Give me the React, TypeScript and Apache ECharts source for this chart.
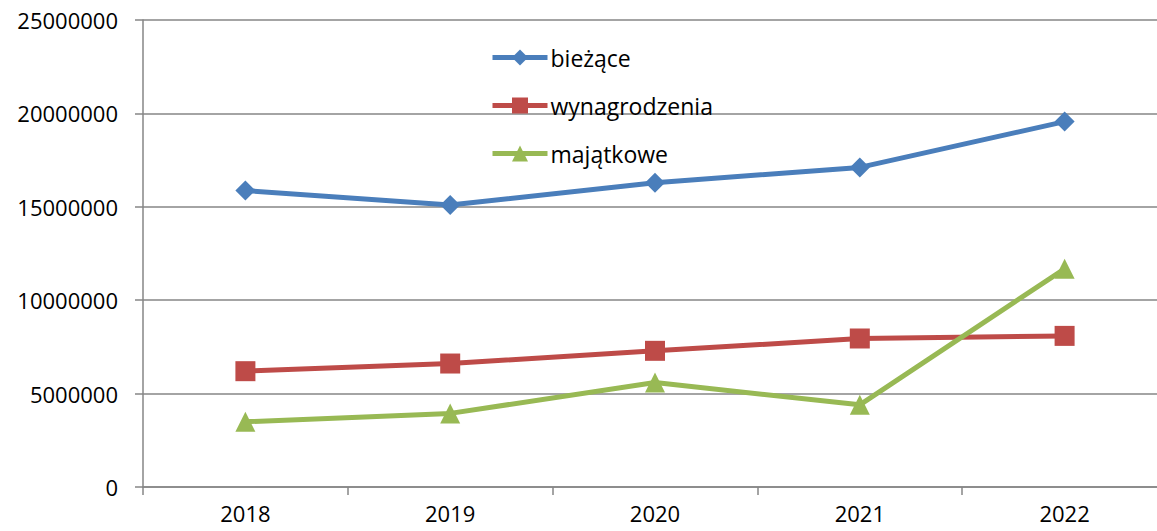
import React, { useEffect, useRef } from "react";
import * as echarts from "echarts";

const categories = ["2018", "2019", "2020", "2021", "2022"];
const biezace = [15870000, 15100000, 16290000, 17110000, 19560000];
const wynagrodzenia = [6200000, 6610000, 7290000, 7950000, 8090000];
const majatkowe = [3490000, 3940000, 5590000, 4400000, 11680000];
const seriesNames = ["bieżące", "wynagrodzenia", "majątkowe"];
const yMin = 0;
const yMax = 25000000;
const yInterval = 5000000;

const FONT = "Open Sans";
const AXIS_COLOR = "#868686";

export default function App() {
  const ref = useRef<HTMLDivElement>(null);
  useEffect(() => {
    if (!ref.current) return;
    const chart = echarts.init(ref.current, undefined, { renderer: "svg" });
    const mk = (name: string, data: number[], color: string, symbol: string, size: number) => ({
      name,
      type: "line",
      data,
      symbol,
      symbolSize: size,
      lineStyle: { color, width: 5 },
      itemStyle: { color },
      z: 3,
    });
    chart.setOption({
      animation: false,
      backgroundColor: "#ffffff",
      textStyle: { fontFamily: FONT },
      grid: { left: 143, width: 1024, top: 20, bottom: 44, containLabel: false },
      legend: {
        orient: "vertical",
        left: 490,
        top: 46,
        padding: 0,
        itemWidth: 55,
        itemHeight: 20,
        itemGap: 25,
        lineStyle: { width: 5 },
        textStyle: { fontFamily: FONT, fontSize: 23, lineHeight: 20, color: "#000000", padding: [0, 0, 0, -2] },
        data: seriesNames,
      },
      xAxis: {
        type: "category",
        data: categories,
        boundaryGap: true,
        axisLine: { show: true, lineStyle: { color: AXIS_COLOR, width: 1.5 } },
        axisTick: { show: true, length: 8, lineStyle: { color: AXIS_COLOR, width: 1.5 } },
        axisLabel: { fontFamily: FONT, fontSize: 22, color: "#000000", margin: 15 },
        splitLine: { show: false },
      },
      yAxis: {
        type: "value",
        min: yMin,
        max: yMax,
        interval: yInterval,
        axisLine: { show: true, lineStyle: { color: AXIS_COLOR, width: 1.5 } },
        axisTick: { show: true, length: 8, lineStyle: { color: AXIS_COLOR, width: 1.5 } },
        axisLabel: {
          fontFamily: FONT,
          fontSize: 22,
          color: "#000000",
          margin: 25,
          formatter: (v: number) => String(v),
        },
        splitLine: { show: true, lineStyle: { color: AXIS_COLOR, width: 1.5 } },
      },
      series: [
        mk(seriesNames[0], biezace, "#4a7ebb", "diamond", 20),
        mk(seriesNames[1], wynagrodzenia, "#be4b48", "rect", 20),
        mk(seriesNames[2], majatkowe, "#98b954", "triangle", 20),
      ],
    });
    return () => chart.dispose();
  }, []);
  return (
    <div style={{ position: "fixed", left: 0, top: 0, width: 1157, height: 531, overflow: "hidden" }}>
      <div ref={ref} style={{ width: 1180, height: 531 }} />
    </div>
  );
}
